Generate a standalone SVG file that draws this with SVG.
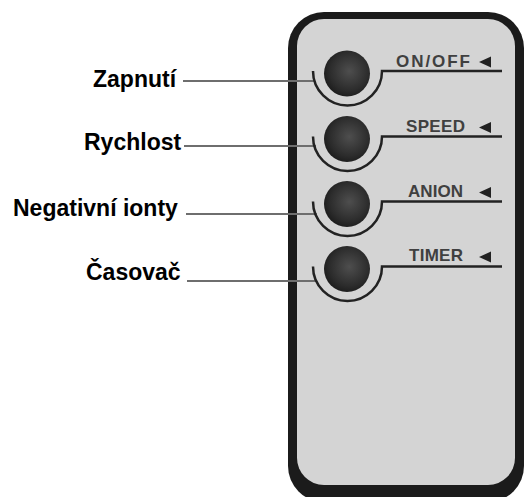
<svg xmlns="http://www.w3.org/2000/svg" width="524" height="497" viewBox="0 0 524 497">
<defs>
<radialGradient id="btn" cx="0.55" cy="0.45" r="0.6">
<stop offset="0" stop-color="#4e4e4e"/>
<stop offset="0.7" stop-color="#2c2c2c"/>
<stop offset="1" stop-color="#1a1a1a"/>
</radialGradient>
<style>
.lbl{font-family:"Liberation Sans",Arial,sans-serif;font-weight:bold;font-size:23px;fill:#000}
.key{font-family:"Liberation Sans",Arial,sans-serif;font-weight:bold;font-size:17px;fill:#404040}
.arc{fill:none;stroke:#222;stroke-width:2.5}
.con{fill:none;stroke:#6e6e6e;stroke-width:2}
.tri{fill:#222}
</style>
</defs>
<rect width="524" height="497" fill="#fff"/>
<g id="remote">
<rect x="288" y="12" width="236" height="490" rx="36" fill="#1b1b1b"/>
<rect x="297" y="19" width="218" height="466" rx="27" fill="#d4d4d4"/>
</g>
<g id="connectors">
<line class="con" x1="183" y1="81" x2="315" y2="81"/>
<line class="con" x1="184" y1="146" x2="316" y2="146"/>
<line class="con" x1="186" y1="214" x2="317" y2="214"/>
<line class="con" x1="187" y1="281" x2="317" y2="281"/>
</g>
<g id="btn-onoff">
<path class="arc" d="M313 71 A34.5 34.5 0 0 0 382 71 L502 71"/>
<circle cx="347" cy="73.5" r="23" fill="url(#btn)"/>
<text class="key" x="396" y="67" textLength="74" lengthAdjust="spacing">ON/OFF</text>
<polygon class="tri" points="479,62 491,56.5 491,67.5"/>
</g>
<g id="btn-speed">
<path class="arc" d="M313 136.5 A34.5 34.5 0 0 0 382 136.5 L502 136.5"/>
<circle cx="347" cy="139" r="23" fill="url(#btn)"/>
<text class="key" x="406" y="132" textLength="59" lengthAdjust="spacing">SPEED</text>
<polygon class="tri" points="479,127.5 491,122 491,133"/>
</g>
<g id="btn-anion">
<path class="arc" d="M313 201.5 A34.5 34.5 0 0 0 382 201.5 L502 201.5"/>
<circle cx="347" cy="204" r="23" fill="url(#btn)"/>
<text class="key" x="408" y="197" textLength="55" lengthAdjust="spacing">ANION</text>
<polygon class="tri" points="479,192.5 491,187 491,198"/>
</g>
<g id="btn-timer">
<path class="arc" d="M313 266.5 A34.5 34.5 0 0 0 382 266.5 L502 266.5"/>
<circle cx="347" cy="269" r="23" fill="url(#btn)"/>
<text class="key" x="409" y="261" textLength="54" lengthAdjust="spacing">TIMER</text>
<polygon class="tri" points="479,257 491,251.5 491,262.5"/>
</g>
<g id="label-zapnuti"><text class="lbl" x="93" y="87">Zapnutí</text></g>
<g id="label-rychlost"><text class="lbl" x="84" y="150">Rychlost</text></g>
<g id="label-negativni"><text class="lbl" x="13" y="216">Negativní ionty</text></g>
<g id="label-casovac"><text class="lbl" x="86" y="280">Časovač</text></g>
</svg>
